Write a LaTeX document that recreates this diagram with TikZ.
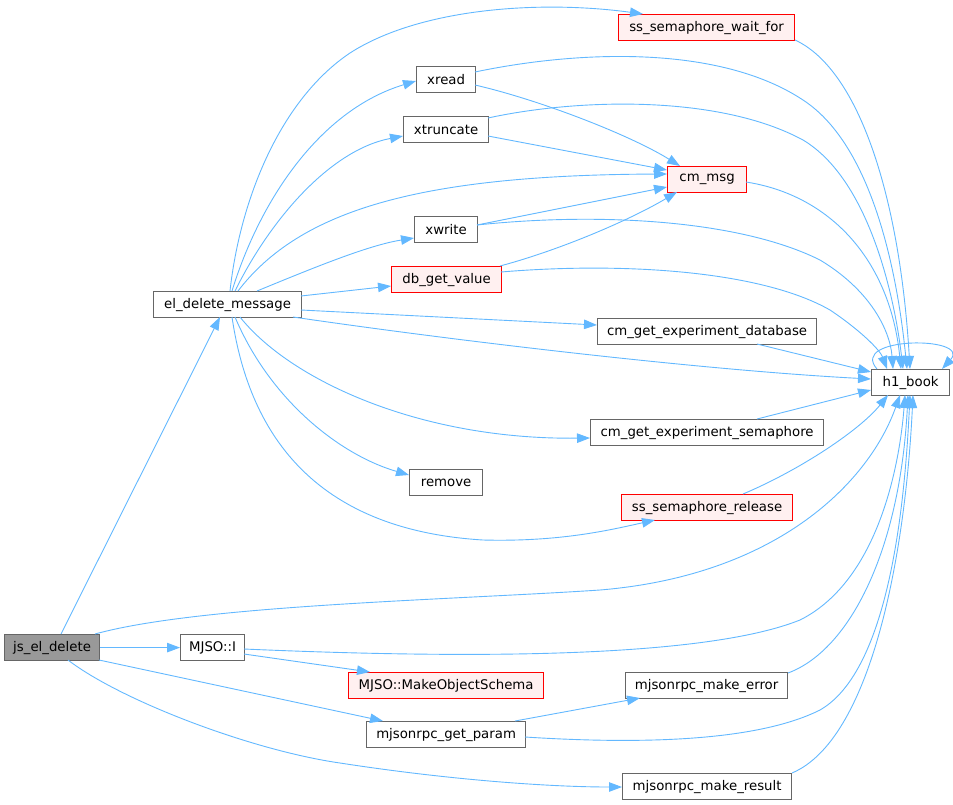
\documentclass[tikz,border=0pt]{standalone}
\usepackage{fontspec}
\setmainfont{DejaVu Sans}
\usetikzlibrary{arrows.meta,calc}
\definecolor{edgec}{HTML}{63B8FF}
\definecolor{boxc}{HTML}{666666}
\definecolor{redfill}{HTML}{FFF0F0}
\definecolor{curfill}{HTML}{999999}
\tikzset{
  box/.style={draw=boxc, fill=white, line width=1.2pt, minimum height=26pt, inner sep=0pt, anchor=north west, font=\fontsize{13.3pt}{16pt}\selectfont},
  redbox/.style={box, draw=red, fill=redfill},
  curbox/.style={box, fill=curfill},
  edge/.style={draw=edgec, line width=0.9pt, -{Triangle[length=13pt,width=9.5pt]}}
}
\begin{document}
\begin{tikzpicture}[x=1pt,y=-1pt]
\useasboundingbox (0,0) rectangle (953,804);
% nodes
\node[curbox, minimum width=95pt]  (js)     at (4,634)   {js\_el\_delete};
\node[box, minimum width=64pt]     (mj)     at (180,634) {MJSO::I};
\node[box, minimum width=148pt]    (el)     at (153,291) {el\_delete\_message};
\node[redbox, minimum width=176pt] (wait)   at (618,14)  {ss\_semaphore\_wait\_for};
\node[box, minimum width=59pt]     (xread)  at (416,66)  {xread};
\node[box, minimum width=85pt]     (xtrunc) at (403,116) {xtruncate};
\node[redbox, minimum width=79pt]  (cmmsg)  at (667,166) {cm\_msg};
\node[box, minimum width=63pt]     (xwrite) at (414,216) {xwrite};
\node[redbox, minimum width=110pt] (db)     at (391,266) {db\_get\_value};
\node[box, minimum width=219pt]    (ged)    at (597,318) {cm\_get\_experiment\_database};
\node[box, minimum width=78pt]     (h1)     at (871,369) {h1\_book};
\node[box, minimum width=233pt]    (ges)    at (590,419) {cm\_get\_experiment\_semaphore};
\node[box, minimum width=73pt]     (remove) at (409,469) {remove};
\node[redbox, minimum width=171pt] (rel)    at (621,494) {ss\_semaphore\_release};
\node[redbox, minimum width=195pt] (mos)    at (348,672) {MJSO::MakeObjectSchema};
\node[box, minimum width=162pt]    (merr)   at (625,672) {mjsonrpc\_make\_error};
\node[box, minimum width=159pt]    (gp)     at (366,721) {mjsonrpc\_get\_param};
\node[box, minimum width=169pt]    (mres)   at (622,773) {mjsonrpc\_make\_result};
% edges from js_el_delete
\draw[edge] ($(js.north west)+(57,0)$) -- ($(el.north west)+(67,26)$);
\draw[edge] ($(js.north west)+(91,0)$) .. controls (200,605) and (450,600) .. (600,590) .. controls (780,575) and (870,480) .. ($(h1.north west)+(29,26)$);
\draw[edge] (js.east) -- (mj.west);
\draw[edge] ($(js.north west)+(95,26)$) -- ($(gp.north west)+(17,0)$);
\draw[edge] ($(js.north west)+(64,26)$) .. controls (120,700) and (250,750) .. (340,763) .. controls (450,780) and (550,787) .. ($(mres.north west)+(0,14)$);
% edges from el_delete_message
\draw[edge] ($(el.north west)+(77,0)$) .. controls (240,200) and (280,100) .. (350,53) .. controls (420,8) and (540,0) .. ($(wait.north west)+(25,0)$);
\draw[edge] ($(el.north west)+(79,0)$) .. controls (260,200) and (320,110) .. ($(xread.north west)+(0,15)$);
\draw[edge] ($(el.north west)+(82,0)$) .. controls (270,220) and (330,150) .. ($(xtrunc.north west)+(0,20)$);
\draw[edge] ($(el.north west)+(85,0)$) .. controls (300,210) and (420,175) .. ($(cmmsg.north west)+(0,8)$);
\draw[edge] ($(el.north west)+(104,0)$) .. controls (320,265) and (370,245) .. ($(xwrite.north west)+(0,22)$);
\draw[edge] ($(el.north west)+(148,5)$) -- ($(db.north west)+(0,20)$);
\draw[edge] ($(el.north west)+(148,19)$) -- ($(ged.north west)+(0,7)$);
\draw[edge] ($(el.north west)+(140,26)$) .. controls (450,340) and (700,370) .. ($(h1.north west)+(0,10)$);
\draw[edge] ($(el.north west)+(87,26)$) .. controls (290,380) and (420,440) .. ($(ges.north west)+(0,19)$);
\draw[edge] ($(el.north west)+(82,26)$) .. controls (270,400) and (340,455) .. ($(remove.north west)+(0,6)$);
\draw[edge] ($(el.north west)+(79,26)$) .. controls (250,440) and (320,530) .. (483,540) .. controls (560,542) and (610,530) .. ($(rel.north west)+(34,26)$);
% edges from xread, xtruncate, xwrite, db_get_value
\draw[edge] ($(xread.north west)+(59,6)$) .. controls (580,50) and (720,45) .. (803,100) .. controls (880,150) and (900,300) .. ($(h1.north west)+(36,0)$);
\draw[edge] ($(xread.north west)+(59,19)$) .. controls (540,100) and (630,135) .. ($(cmmsg.north west)+(13,0)$);
\draw[edge] ($(xtrunc.north west)+(85,2)$) .. controls (580,98) and (720,95) .. (803,140) .. controls (870,180) and (895,300) .. ($(h1.north west)+(32,0)$);
\draw[edge] ($(xtrunc.north west)+(85,20)$) -- ($(cmmsg.north west)+(0,4)$);
\draw[edge] ($(xwrite.north west)+(63,9)$) -- ($(cmmsg.north west)+(0,21)$);
\draw[edge] ($(xwrite.north west)+(63,9)$) .. controls (600,212) and (740,220) .. (820,260) .. controls (870,290) and (890,330) .. ($(h1.north west)+(22,0)$);
\draw[edge] ($(db.north west)+(109,0)$) .. controls (560,250) and (630,220) .. ($(cmmsg.north west)+(10,26)$);
\draw[edge] ($(db.north west)+(110,6)$) .. controls (620,262) and (760,270) .. (830,310) .. controls (860,330) and (880,350) .. ($(h1.north west)+(16,0)$);
% edges into h1_book
\draw[edge] ($(cmmsg.north west)+(79,16)$) .. controls (830,195) and (890,260) .. ($(h1.north west)+(30,0)$);
\draw[edge] ($(wait.north west)+(177,26)$) .. controls (860,70) and (900,200) .. ($(h1.north west)+(39,0)$);
\draw[edge] ($(ged.north west)+(160,26)$) -- ($(h1.north west)+(0,3)$);
\draw[edge] ($(ges.north west)+(167,0)$) -- ($(h1.north west)+(0,21)$);
\draw[edge] ($(rel.north west)+(122,0)$) .. controls (800,470) and (860,430) .. ($(h1.north west)+(17,26)$);
\draw[edge] ($(h1.north west)+(6,0)$) .. controls (848,336) and (972,336) .. ($(h1.north west)+(71,0)$);
% edges from MJSO::I and mjsonrpc
\draw[edge] ($(mj.north west)+(64,15)$) .. controls (450,658) and (700,660) .. (800,620) .. controls (880,580) and (900,460) .. ($(h1.north west)+(34,26)$);
\draw[edge] ($(mj.north west)+(64,20)$) -- ($(mos.north west)+(22,0)$);
\draw[edge] ($(gp.north west)+(149,0)$) -- ($(merr.north west)+(15,26)$);
\draw[edge] ($(gp.north west)+(159,16)$) .. controls (650,745) and (760,740) .. (820,710) .. controls (890,670) and (905,500) .. ($(h1.north west)+(39,26)$);
\draw[edge] ($(merr.north west)+(163,1)$) .. controls (850,650) and (900,550) .. ($(h1.north west)+(37,26)$);
\draw[edge] ($(mres.north west)+(170,0)$) .. controls (870,740) and (905,560) .. ($(h1.north west)+(42,26)$);
\end{tikzpicture}
\end{document}
